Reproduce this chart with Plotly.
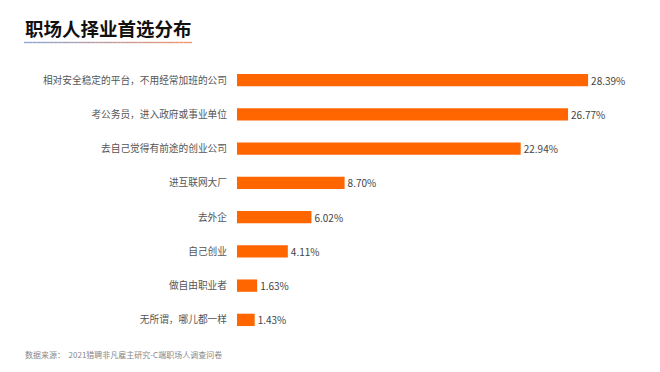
import plotly.graph_objects as go

categories = ["相对安全稳定的平台，不用经常加班的公司", "考公务员，进入政府或事业单位", "去自己觉得有前途的创业公司",
              "进互联网大厂", "去外企", "自己创业", "做自由职业者", "无所谓，哪儿都一样"]
values = [28.39, 26.77, 22.94, 8.70, 6.02, 4.11, 1.63, 1.43]
value_labels = ["28.39%", "26.77%", "22.94%", "8.70%", "6.02%", "4.11%", "1.63%", "1.43%"]

FONT = "Noto Sans CJK SC"
L, T, W, H = 237, 63, 371, 274

def px(x):
    return (x - L) / W

def py(y):
    return 1 - (y - T) / H

fig = go.Figure(go.Bar(
    x=values, y=categories, orientation="h",
    marker=dict(color="#FF6600", line=dict(width=0)),
    width=0.36,
    text=value_labels, textposition="outside", cliponaxis=False,
    constraintext="none",
    textfont=dict(family=FONT, size=10, color="#444444"),
    hoverinfo="skip",
))

fig.update_layout(
    width=660, height=372,
    margin=dict(l=L, r=660 - L - W, t=T, b=372 - T - H, autoexpand=False),
    paper_bgcolor="white", plot_bgcolor="white",
    showlegend=False,
    font=dict(family=FONT),
    xaxis=dict(range=[0, 30], visible=False, automargin=False),
    yaxis=dict(autorange="reversed", showgrid=False, zeroline=False, showline=False,
               ticks="", ticklabelstandoff=9, automargin=False,
               tickfont=dict(family=FONT, size=9.7, color="#555555")),
)

fig.add_annotation(text="<b>职场人择业首选分布</b>", xref="paper", yref="paper",
                   x=px(23), y=py(28), xanchor="left", yanchor="middle",
                   showarrow=False, font=dict(family=FONT, size=18.5, color="#111111"))

# gradient underline
n = 40
x0, x1 = 24, 192
c0 = (140, 165, 210)
c1 = (240, 150, 110)
for i in range(n):
    t = i / (n - 1)
    col = "rgb(%d,%d,%d)" % tuple(int(c0[k] + (c1[k] - c0[k]) * t) for k in range(3))
    sx0 = x0 + (x1 - x0) * i / n
    sx1 = x0 + (x1 - x0) * (i + 1) / n
    fig.add_shape(type="rect", xref="paper", yref="paper",
                  x0=px(sx0), x1=px(sx1), y0=py(43.2), y1=py(41.8),
                  line=dict(width=0), fillcolor=col, layer="above")

fig.add_annotation(text="数据来源：  2021猎聘非凡雇主研究-C端职场人调查问卷", xref="paper", yref="paper",
                   x=px(23), y=py(354), xanchor="left", yanchor="middle",
                   showarrow=False, font=dict(family=FONT, size=8, color="#888888"))

fig.write_html("out.html", config={"displayModeBar": False},
               post_script="document.body.style.margin='0';document.body.style.padding='0';")
